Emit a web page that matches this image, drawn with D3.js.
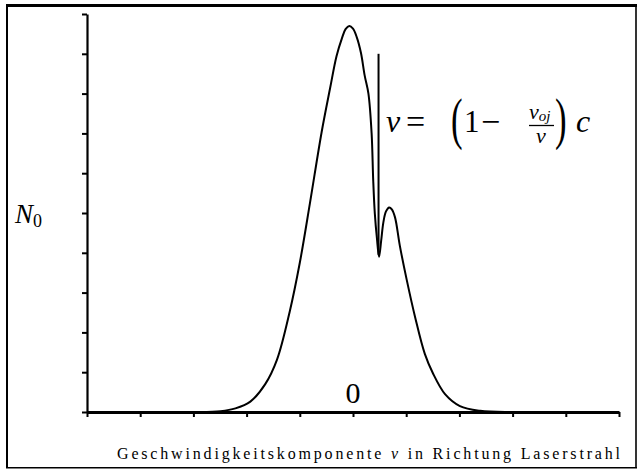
<!DOCTYPE html>
<html>
<head>
<meta charset="utf-8">
<script src="https://cdn.jsdelivr.net/npm/d3@7/dist/d3.min.js"></script>
<style>
  html, body { margin: 0; padding: 0; background: #fff; }
  svg { display: block; }
</style>
</head>
<body>
<script>
// Velocity distribution of the lower level population with a burned hole
// (x: velocity component along the laser beam, y: population density)
const curveX = [-2.87, -2.49, -2.21, -1.93, -1.65, -1.43, -1.19, -1.00, -0.81, -0.59,
                -0.43, -0.31, -0.21, -0.14, -0.07, 0.00, 0.07, 0.15, 0.22, 0.29,
                0.35, 0.38, 0.41, 0.45, 0.49, 0.53, 0.57, 0.62, 0.68, 0.73,
                0.79, 0.88, 1.01, 1.17, 1.35, 1.50, 1.73, 2.01, 2.39, 2.86];
const curveY = [0.00, 0.02, 0.09, 0.26, 0.70, 1.31, 2.52, 3.75, 5.24, 7.03,
                8.14, 8.94, 9.38, 9.62, 9.70, 9.63, 9.42, 9.02, 8.45, 8.00,
                7.00, 5.82, 4.99, 4.36, 3.90, 4.31, 4.76, 5.04, 5.14, 5.09,
                4.89, 4.18, 3.32, 2.37, 1.46, 0.98, 0.45, 0.15, 0.03, 0.00];

// Marker at the resonant velocity of the laser
const markerX = 0.48;
const markerY = [3.95, 9.0];

const xTicks = [-5, -4, -3, -2, -1, 0, 1, 2, 3, 4, 5];
const yTicks = [0, 1, 2, 3, 4, 5, 6, 7, 8, 9, 10];
const xTickLabels = [{ value: 0, label: "0" }];
const yLabelAt = 5;

const W = 638, H = 469;
const SERIF = '"Liberation Serif"';
const svg = d3.select("body").append("svg").attr("width", W).attr("height", H);

// text helper: always serif, black
function txt(sel, size) {
  return sel.append("text")
    .style("font-family", SERIF)
    .style("font-size", size + "px")
    .style("fill", "#000");
}

// outer frame
const frame = svg.append("g").attr("stroke", "#000").attr("fill", "none");
frame.append("line").attr("x1", 6).attr("x2", 637).attr("y1", 5.5).attr("y2", 5.5).attr("stroke-width", 3);
frame.append("line").attr("x1", 7).attr("x2", 7).attr("y1", 4).attr("y2", 468).attr("stroke-width", 2);
frame.append("line").attr("x1", 6).attr("x2", 637).attr("y1", 467.8).attr("y2", 467.8).attr("stroke-width", 1.6);
frame.append("line").attr("x1", 636).attr("x2", 636).attr("y1", 4).attr("y2", 468).attr("stroke-width", 1.6);

const x = d3.scaleLinear().domain([-5, 5]).range([87, 619]);
const y = d3.scaleLinear().domain([0, 10]).range([412, 14]);

// axes
const gx = svg.append("g").attr("transform", `translate(0,${y(0)})`)
  .call(d3.axisBottom(x).tickValues(xTicks).tickSize(5).tickSizeOuter(0).tickFormat(""));
gx.select(".domain").attr("stroke-width", 2.8);
gx.selectAll(".tick line").attr("stroke-width", 2);

const gy = svg.append("g").attr("transform", `translate(${x(-5)},0)`)
  .call(d3.axisLeft(y).tickValues(yTicks).tickSize(5).tickSizeOuter(0).tickFormat(""));
gy.select(".domain").attr("stroke-width", 2.2);
gy.selectAll(".tick line").attr("stroke-width", 2);

// distribution curve
const pts = curveX.map((v, i) => [v, curveY[i]]);
svg.append("path")
  .datum(pts)
  .attr("fill", "none")
  .attr("stroke", "#000")
  .attr("stroke-width", 2)
  .attr("stroke-linejoin", "round")
  .attr("d", d3.line().x(d => x(d[0])).y(d => y(d[1])).curve(d3.curveCatmullRom.alpha(0.5)));

// resonance marker
svg.append("line")
  .attr("x1", x(markerX)).attr("x2", x(markerX))
  .attr("y1", y(markerY[0])).attr("y2", y(markerY[1]))
  .attr("stroke", "#000").attr("stroke-width", 2);

// centre tick label
xTickLabels.forEach(d => {
  txt(svg, 30).attr("x", x(d.value)).attr("y", 403)
    .attr("text-anchor", "middle")
    .text(d.label);
});

// y label N_0
const ny = txt(svg, 27).attr("x", 15).attr("y", y(yLabelAt) + 10);
ny.append("tspan").style("font-style", "italic").text("N");
ny.append("tspan").style("font-size", "18px").attr("dy", 4).text("0");

// x axis title
const xt = txt(svg, 16).attr("x", 117).attr("y", 459)
  .attr("textLength", 503).attr("lengthAdjust", "spacing");
xt.append("tspan").text("Geschwindigkeitskomponente ");
xt.append("tspan").style("font-style", "italic").text("v");
xt.append("tspan").text(" in Richtung Laserstrahl");

// formula v = (1 - nu_oj / nu) c
const f = svg.append("g");
txt(f, 32).attr("x", 386).attr("y", 132).style("font-style", "italic").text("v");
txt(f, 34).attr("x", 406).attr("y", 133).text("=");
txt(f, 58).attr("transform", "translate(451,138) scale(0.6,1)").text("(");
txt(f, 31).attr("x", 464).attr("y", 132).text("1");
txt(f, 34).attr("x", 481).attr("y", 133).text("\u2212");
const num = txt(f, 22).attr("x", 529).attr("y", 119).style("font-style", "italic");
num.append("tspan").text("\u03BD");
num.append("tspan").style("font-size", "15px").attr("dy", 2).text("oj");
f.append("line").attr("x1", 529).attr("x2", 554).attr("y1", 125.5).attr("y2", 125.5)
  .attr("stroke", "#000").attr("stroke-width", 1.3);
txt(f, 22).attr("x", 536).attr("y", 143).style("font-style", "italic").text("\u03BD");
txt(f, 58).attr("transform", "translate(555,138) scale(0.6,1)").text(")");
txt(f, 32).attr("x", 576).attr("y", 132).style("font-style", "italic").text("c");
</script>
</body>
</html>
